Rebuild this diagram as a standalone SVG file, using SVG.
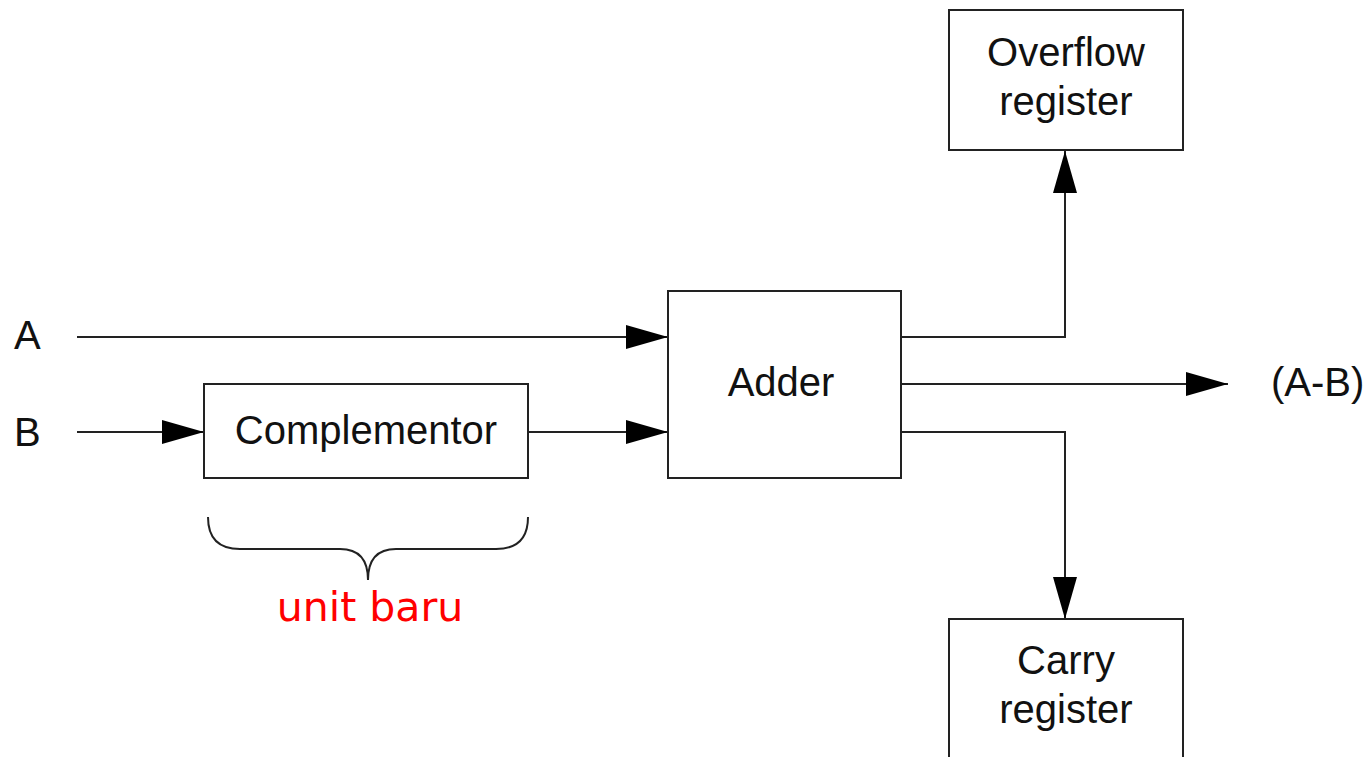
<svg xmlns="http://www.w3.org/2000/svg" width="1371" height="757" viewBox="0 0 1371 757">
<style>
.box{fill:#fff;stroke:#222;stroke-width:2}
.lbl{font-family:"Liberation Sans",Arial,sans-serif;font-size:40px;fill:#111}
.c{text-anchor:middle}
.con{fill:none;stroke:#222;stroke-width:2}
.red{font-family:"DejaVu Sans",Verdana,sans-serif;font-size:41px;fill:#ff0000;text-anchor:middle}
</style>
<defs>
<marker id="arr" viewBox="0 0 42 24" refX="42" refY="12" markerWidth="42" markerHeight="24" markerUnits="userSpaceOnUse" orient="auto">
<path d="M0,0 L42,12 L0,24 Z" fill="#000"/>
</marker>
</defs>
<rect width="1371" height="757" fill="#fff"/>
<g id="connectors">
<line class="con" x1="77" y1="337" x2="668" y2="337" marker-end="url(#arr)"/>
<line class="con" x1="77" y1="432" x2="204" y2="432" marker-end="url(#arr)"/>
<line class="con" x1="528" y1="432" x2="668" y2="432" marker-end="url(#arr)"/>
<polyline class="con" points="901,337 1065,337 1065,151" marker-end="url(#arr)"/>
<line class="con" x1="901" y1="384" x2="1228" y2="384" marker-end="url(#arr)"/>
<polyline class="con" points="901,432 1065,432 1065,619" marker-end="url(#arr)"/>
</g>
<g id="labelA"><text class="lbl" x="14" y="349">A</text></g>
<g id="labelB"><text class="lbl" x="14" y="446">B</text></g>
<g id="complementor">
<rect class="box" x="204" y="384" width="324" height="94"/>
<text class="lbl c" x="366" y="444">Complementor</text>
</g>
<g id="adder">
<rect class="box" x="668" y="291" width="233" height="187"/>
<text class="lbl c" x="781" y="396">Adder</text>
</g>
<g id="overflow">
<rect class="box" x="949" y="10" width="234" height="140"/>
<text class="lbl c" x="1066" y="66">Overflow</text>
<text class="lbl c" x="1066" y="115">register</text>
</g>
<g id="carry">
<rect class="box" x="949" y="619" width="234" height="170"/>
<text class="lbl c" x="1066" y="674">Carry</text>
<text class="lbl c" x="1066" y="723">register</text>
</g>
<g id="output"><text class="lbl" x="1271" y="396">(A-B)</text></g>
<g id="brace">
<path class="con" d="M208,517 Q208,549 240,549 L340,549 Q368,549 368,580 Q368,549 396,549 L496,549 Q528,549 528,517"/>
<text class="red" x="370" y="621">unit baru</text>
</g>
</svg>
